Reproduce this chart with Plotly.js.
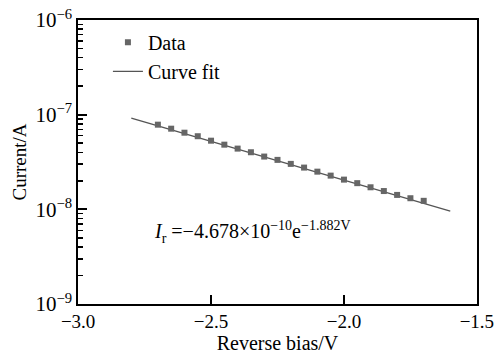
<!DOCTYPE html>
<html>
<head>
<meta charset="utf-8">
<script src="https://cdn.plot.ly/plotly-3.0.1.min.js"></script>
<style>html,body{margin:0;padding:0;background:#fff;}#chart{width:495px;height:356px;}</style>
</head>
<body>
<div id="chart"></div>
<script>
var biasV = [-2.70,-2.65,-2.60,-2.55,-2.50,-2.45,-2.40,-2.35,-2.30,-2.25,-2.20,-2.15,-2.10,-2.05,-2.00,-1.95,-1.90,-1.85,-1.80,-1.75,-1.70];
var currentA = [7.84e-8,7.11e-8,6.45e-8,5.92e-8,5.31e-8,4.82e-8,4.38e-8,4.01e-8,3.61e-8,3.33e-8,3.02e-8,2.76e-8,2.50e-8,2.27e-8,2.06e-8,1.89e-8,1.71e-8,1.56e-8,1.42e-8,1.31e-8,1.23e-8];
var fitV = [-2.8,-1.6];
var fitA = [9.2e-8,9.6e-9];
var yTickVals = [1e-9,1e-8,1e-7,1e-6];
var yTickText = ['10<sup>−9</sup>','10<sup>−8</sup>','10<sup>−7</sup>','10<sup>−6</sup>'];
var yMinorVals = [2e-9,3e-9,4e-9,5e-9,6e-9,7e-9,8e-9,9e-9,
                  2e-8,3e-8,4e-8,5e-8,6e-8,7e-8,8e-8,9e-8,
                  2e-7,3e-7,4e-7,5e-7,6e-7,7e-7,8e-7,9e-7];
var xTickVals = [-3.0,-2.5,-2.0,-1.5];
var xTickText = ['−3.0','−2.5','−2.0','−1.5'];

var font = 'Liberation Serif, Times New Roman, serif';
var traces = [
  {x: fitV, y: fitA, mode:'lines', name:'Curve fit', line:{color:'#555', width:1.3}, showlegend:true},
  {x: biasV, y: currentA, mode:'markers', name:'Data', marker:{symbol:'square', size:6, color:'#666'}}
];
var layout = {
  width:495, height:356,
  margin:{l:78, r:18, t:20, b:52},
  paper_bgcolor:'#fff', plot_bgcolor:'#fff',
  font:{family:font, color:'#000', size:18},
  showlegend:true,
  legend:{x:0.075, y:0.99, xanchor:'left', yanchor:'top', traceorder:'reversed', bgcolor:'rgba(0,0,0,0)', font:{family:font, size:20}, tracegroupgap:0},
  xaxis:{range:[-3.0005,-1.4995], tickmode:'array', tickvals:xTickVals, ticktext:xTickText, ticks:'inside', ticklen:9, tickwidth:2, tickcolor:'#000',
         ticklabeloverflow:'allow',
         showline:true, linecolor:'#000', linewidth:1.6, mirror:true, showgrid:false, zeroline:false,
         tickfont:{family:font, size:19}, title:{text:'Reverse bias/V', font:{family:font, size:20}, standoff:0}},
  yaxis:{type:'log', range:[-9,-6], tickmode:'array', tickvals:yTickVals, ticktext:yTickText, ticks:'inside', ticklen:9, tickwidth:2, tickcolor:'#000',
         minor:{tickmode:'array', tickvals:yMinorVals, ticks:'inside', ticklen:5, tickwidth:1.5, tickcolor:'#000', showgrid:false},
         ticklabeloverflow:'allow',
         showline:true, linecolor:'#000', linewidth:1.6, mirror:true, showgrid:false, zeroline:false,
         tickfont:{family:font, size:21}, title:{text:'Current/A', font:{family:font, size:19}, standoff:4}},
  annotations:[{x:-2.345, y:-8.24, xref:'x', yref:'y', showarrow:false,
    text:'<i>I</i><sub>r</sub> =−4.678×10<sup>−10</sup>e<sup>−1.882V</sup>', font:{family:font, size:20, color:'#000'}}]
};
Plotly.newPlot('chart', traces, layout, {displayModeBar:false, staticPlot:true});
</script>
</body>
</html>
